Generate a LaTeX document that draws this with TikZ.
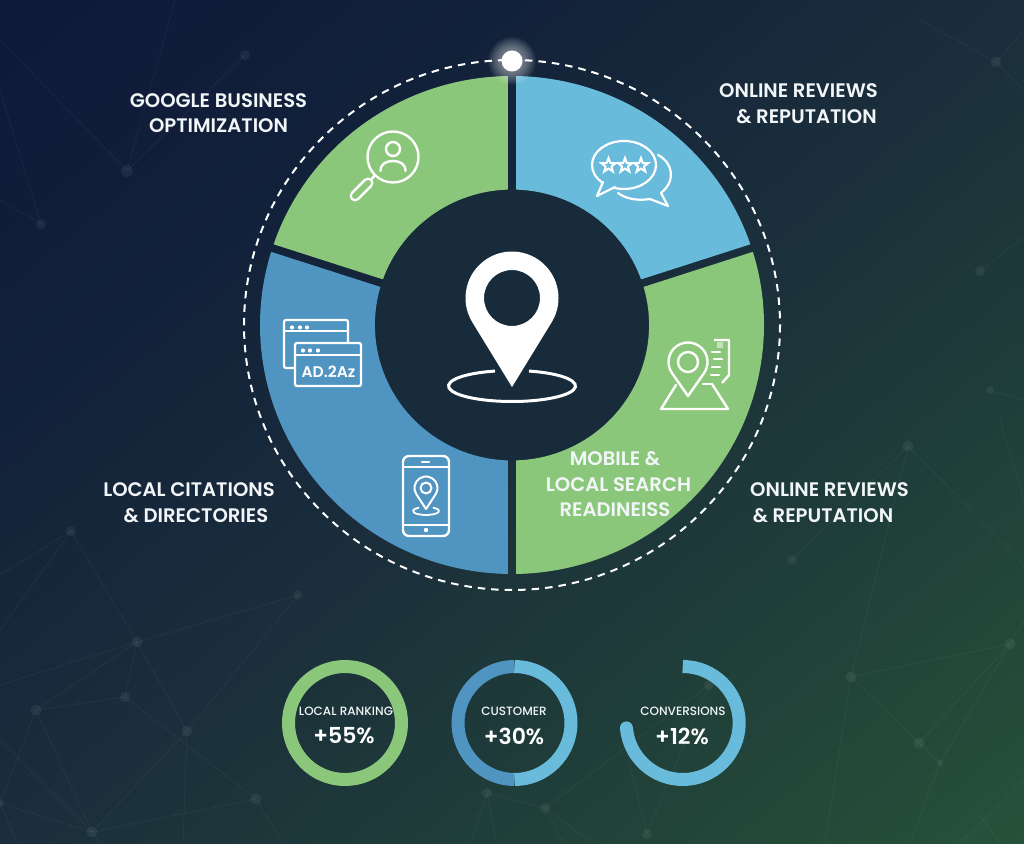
\documentclass[tikz,border=0pt]{standalone}
\usepackage{fontspec}
\setmainfont{Poppins}[UprightFont=* Medium,BoldFont=* SemiBold]
\usetikzlibrary{calc}
\definecolor{cgreen}{HTML}{8AC77A}
\definecolor{clight}{HTML}{69BBDC}
\definecolor{cblue}{HTML}{5095C2}
\definecolor{ccore}{HTML}{182B3A}
\definecolor{ctext}{HTML}{F3F6F8}
\definecolor{gA}{HTML}{0E1938}
\definecolor{gB}{HTML}{12213A}
\definecolor{gC}{HTML}{1A2E3B}
\definecolor{gD}{HTML}{203F39}
\definecolor{gE}{HTML}{265239}
\pgfdeclarehorizontalshading{bggrad}{100bp}{color(0bp)=(gA); color(25bp)=(gA); color(37.5bp)=(gB); color(50bp)=(gC); color(62.5bp)=(gD); color(75bp)=(gE); color(100bp)=(gE)}
\tikzset{
 netline/.style={white,opacity=.045,line width=.9pt},
 netdot/.style={white,opacity=.06},
 iconline/.style={white,line width=2.4pt,line join=round,line cap=round},
 seglabel/.style={text=ctext,font=\bfseries\fontsize{19.6}{22}\selectfont,inner sep=0pt,anchor=center},
 ringname/.style={text=ctext,font=\fontsize{12}{14}\selectfont,inner sep=0pt,anchor=center},
 ringvalue/.style={text=white,font=\bfseries\fontsize{22}{26}\selectfont,inner sep=0pt,anchor=center},
 statring/.style={line width=13pt}
}
\newcommand\ringseg[3]{%
 \pgfmathsetmacro\da{asin(4/250)}\pgfmathsetmacro\db{asin(4/136)}%
 \fill[#1] ({#2+\da}:250) arc[start angle=#2+\da,end angle=#3-\da,radius=250]
  -- ({#3-\db}:136) arc[start angle=#3-\db,end angle=#2+\db,radius=136] -- cycle;}
% outline of a map pin: x, y of head centre, head radius, half angle, tip y
\newcommand\pinpath[5]{%
 (#1,#5) -- ($(#1,#2)+({90+#4}:#3)$) arc[start angle=90+#4,end angle=450-#4,radius=#3] -- cycle}
\newcommand\starat[2]{%
 \draw[white,line width=2pt,line join=miter] ($(#1,#2)+(-90:7.5)$)
  -- ($(#1,#2)+(-54:3.1)$) -- ($(#1,#2)+(-18:7.5)$) -- ($(#1,#2)+(18:3.1)$) -- ($(#1,#2)+(54:7.5)$)
  -- ($(#1,#2)+(90:3.1)$) -- ($(#1,#2)+(126:7.5)$) -- ($(#1,#2)+(162:3.1)$) -- ($(#1,#2)+(198:7.5)$)
  -- ($(#1,#2)+(234:3.1)$) -- cycle;}
\begin{document}
\begin{tikzpicture}[x=1pt,y=1pt]
\useasboundingbox (0,0) rectangle (1024,843);
\begin{scope}
 \clip (0,0) rectangle (1024,843);
 \shade[shading=bggrad,shading angle=-50.5] (512-651,421.5-651) rectangle (512+651,421.5+651);
\end{scope}
\begin{scope}[shift={(0,843)},yscale=-1]
\coordinate (wheel) at (512,325);
% background network
\foreach \n/\x/\y/\r in {n1/127/171/6,n2/41/224/5,n3/245/55/5,a/71/531/5,b/137/642/5.5,c/298/595/4.5,
  d/125/697/5,e/36/710/5.5,f/187/731/5.5,g/256/799/5.5,h/92/832/5.5,i/0/803/4,
  j/487/793/5,k/545/808/5,l/647/834/5,m/709/685/5,
  o1/996/62/5.5,o2/980/271/5,o3/990/390/4,q/908/446/5.5,r/792/560/4.5,s/851/677/5.5,t/919/743/5.5,u/1010/644/5.5,v/940/763/3}{
 \coordinate (\n) at (\x,\y);
 \fill[netdot] (\n) circle (\r);
}
\foreach \p/\q in {n1/n3,a/b,b/c,b/d,b/e,d/e,d/g,c/f,f/b,f/h,e/h,e/i,i/h,h/g,j/k,k/m,m/l,q/r,q/s,s/t,t/v,t/u,v/u,s/u}{
 \draw[netline] (\p) -- (\q);}
\draw[netline] (n1) -- (0,40);
\draw[netline] (n1) -- (175,0);
\draw[netline] (n2) -- (0,90);
\draw[netline] (n2) -- (0,200);
\draw[netline] (a) -- (0,575);
\draw[netline] (a) -- (0,630);
\draw[netline] (b) -- (0,685);
\draw[netline] (f) -- (183,843);
\draw[netline] (g) -- (283,843);
\draw[netline] (h) -- (100,843);
\draw[netline] (h) -- (0,740);
\draw[netline] (i) -- (17,843);
\draw[netline] (j) -- (470,843);
\draw[netline] (j) -- (497,843);
\draw[netline] (k) -- (563,843);
\draw[netline] (k) -- (593,843);
\draw[netline] (l) -- (627,753);
\draw[netline] (o1) -- (920,20);
\draw[netline] (o1) -- (1024,30);
\draw[netline] (o1) -- (1024,90);
\draw[netline] (o2) -- (1024,237);
\draw[netline] (o3) -- (1024,400);
\draw[netline] (q) -- (1024,565);
\draw[netline] (s) -- (825,843);
\draw[netline] (v) -- (910,843);
\draw[netline] (u) -- (1024,620);
\draw[netline] (1000,420) -- (1024,500);
\draw[netline] (960,843) -- (1024,780);
\draw[netline] (980,815) -- (1000,843);
% wheel
\fill[ccore] (wheel) circle (136);
\begin{scope}[shift={(512,325)},xscale=1.008,yscale=0.996]
\ringseg{cgreen}{198}{270}
\ringseg{clight}{-90}{-18}
\ringseg{cgreen}{-18}{90}
\ringseg{cblue}{90}{198}
\end{scope}
\draw[white,line width=2pt,dash pattern=on 7.5pt off 6pt] (wheel) ellipse [x radius=268,y radius=265];
\foreach \rr in {24,23,...,11}{\fill[white,opacity=.04] (512,61) circle (\rr);}
\fill[white] (512,61) circle (10.5);
% centre pin
\fill[white,even odd rule] \pinpath{512}{298}{46.5}{58.5}{387} (512,298) circle (28);
\draw[white,line width=3pt] ($(512,386)+({63.5*cos(-74.5)},{15.5*sin(-74.5)})$)
  arc[start angle=-74.5,end angle=254.5,x radius=63.5,y radius=15.5];
% magnifier icon
\draw[iconline] (393,157) circle (25.5);
\draw[iconline] (393,149) circle (7);
\draw[iconline] (380.5,171) .. controls (380.5,164) and (386,161) .. (393,161) .. controls (400,161) and (405.5,164) .. (405.5,171);
\draw[iconline] (375,175) -- (371,180);
\draw[white,line width=11pt,line cap=round] (368,183) -- (355,196);
\draw[cgreen,line width=6pt,line cap=round] (368,183) -- (355,196);
% chat icon
\draw[iconline,line width=2.2pt] (624,165) ellipse [x radius=32,y radius=24];
\fill[clight] (604,180) -- (598,195.5) -- (616,186) -- (612,180) -- cycle;
\draw[iconline,line width=2.2pt] (603,182) -- (597,196) -- (615,187);
\draw[iconline,line width=2.2pt] (658,155) .. controls (672,162) and (677,180) .. (661,193) -- (668,206) -- (650,199)
  .. controls (638,201) and (626,199) .. (618,193);
\starat{608.5}{165.5}\starat{625}{165.5}\starat{641}{165.5}
% citations icon
\draw[iconline,rounded corners=2pt,line width=2.2pt] (284,320) rectangle (348,368);
\draw[iconline,line width=2.2pt] (284,331) -- (348,331);
\foreach \x in {292,300,307}{\fill[white] (\x,327.5) circle (2.1);}
\draw[iconline,rounded corners=2pt,fill=cblue,line width=2.2pt] (295,343) rectangle (361,386);
\draw[iconline,line width=2.2pt] (295,355) -- (361,355);
\foreach \x in {303,310,318}{\fill[white] (\x,350.5) circle (2.1);}
\node[inner sep=0pt,text=white,font=\bfseries\fontsize{15.5}{17}\selectfont] (adtext) at (328.5,372) {AD.2Az};
% phone icon
\draw[iconline,rounded corners=6pt] (403,456) rectangle (449,536);
\draw[iconline] (403,467) -- (449,467);
\draw[iconline] (403,525) -- (449,525);
\draw[iconline] (422,462) -- (429,462);
\fill[white] (426,530) circle (2.2);
\draw[iconline,line width=2pt] \pinpath{426}{488}{11.5}{56.8}{509};
\draw[iconline,line width=2pt] (426,488) circle (5.5);
\draw[iconline,line width=1.8pt] ($(426,511)+({13*cos(-55)},{4*sin(-55)})$)
  arc[start angle=-55,end angle=235,x radius=13,y radius=4];
% map icon
\draw[iconline] (712,384) -- (703,384);
\draw[iconline] (676,385) -- (661,409) -- (728,409) -- (712,384);
\draw[iconline] \pinpath{688}{362}{19.5}{55}{396};
\draw[iconline] (688,362) circle (10);
\draw[iconline,line cap=butt] (714,340) -- (729,340) -- (729,375) -- (722,383);
\foreach \ya/\xa/\xb in {352/712/720,359/714/722,367/712/720,375/711/719}{\draw[iconline] (\xa,\ya) -- (\xb,\ya);}
\fill[white,opacity=.5] (717,342) rectangle (723,348);
% labels
\node[seglabel] (gb1) at (218.5,101) {GOOGLE BUSINESS};
\node[seglabel] (gb2) at (218.5,126) {OPTIMIZATION};
\node[seglabel] (or1) at (798.5,91) {ONLINE REVIEWS};
\node[seglabel] (or2) at (806.5,117) {\& REPUTATION};
\node[seglabel] (lc1) at (189,490) {LOCAL CITATIONS};
\node[seglabel] (lc2) at (196,516) {\& DIRECTORIES};
\node[seglabel] (ml1) at (615,459) {MOBILE \&};
\node[seglabel] (ml2) at (618.5,485) {LOCAL SEARCH};
\node[seglabel] (ml3) at (615,510) {READINEISS};
\node[seglabel] (rr1) at (829.5,490) {ONLINE REVIEWS};
\node[seglabel] (rr2) at (823,516) {\& REPUTATION};
% stat rings
\draw[cgreen,statring] (345,723) circle (56.5);
\draw[cblue,statring] (514.5,723+56.5) arc[start angle=90,end angle=270,radius=56.5];
\draw[clight,statring] (514.5,723-56.5) arc[start angle=-90,end angle=90,radius=56.5];
\draw[clight,statring] (682.7,723-56.5) arc[start angle=-90,end angle=175,radius=56.5];
\fill[clight] ($(682.7,723)+(175:56.5)$) circle (6.5);
\node[ringname] (s1a) at (346,711) {LOCAL RANKING};
\node[ringvalue] (s1b) at (344,736) {+55\%};
\node[ringname] (s2a) at (514,711) {CUSTOMER};
\node[ringvalue] (s2b) at (514,736) {+30\%};
\node[ringname] (s3a) at (683,711) {CONVERSIONS};
\node[ringvalue] (s3b) at (682,736) {+12\%};
\end{scope}
\end{tikzpicture}
\end{document}
